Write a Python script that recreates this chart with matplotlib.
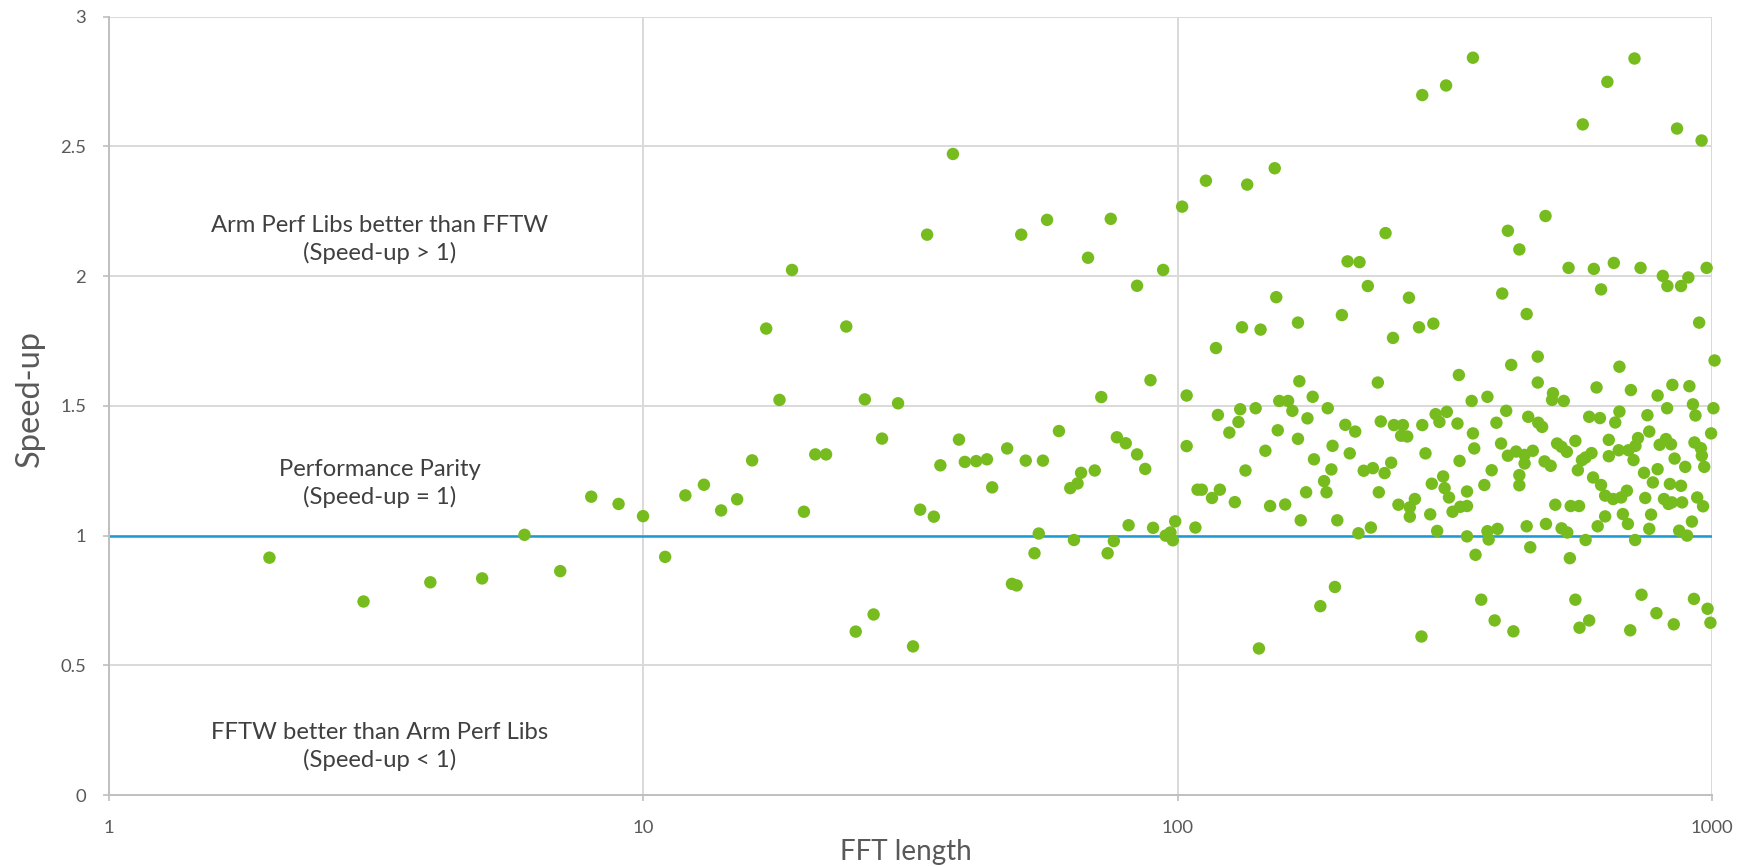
import matplotlib
matplotlib.use("Agg")
import matplotlib.pyplot as plt
from matplotlib.ticker import FixedLocator, FixedFormatter, NullLocator

# FFT lengths and measured speed-up of Arm Performance Libraries over FFTW
fft_length = [
    2, 3, 4, 5, 6, 7, 8, 9, 10, 11, 12, 13, 14, 15, 16, 17, 18, 19, 20, 21,
    22, 24, 25, 26, 27, 28, 30, 32, 33, 34, 35, 36, 38, 39, 40, 42, 44, 45,
    48, 49, 50, 51, 52, 54, 55, 56, 57, 60, 63, 64, 65, 66, 68, 70, 72, 74,
    75, 76, 77, 80, 81, 84, 84, 87, 89, 90, 94, 95, 97, 98, 99,
    102, 113, 135, 152, 245, 208, 219, 227, 153, 118, 132, 143, 168, 203,
    253, 271, 283, 301, 287, 318,
    104, 169, 237, 104, 119, 131, 140, 130, 125, 155, 161, 164, 179, 191,
    175, 154, 168, 146, 134, 195, 210, 180, 194, 188, 190, 174, 206, 215,
    240, 254, 264, 262, 269, 287, 304, 309, 319, 291, 251, 223, 232, 244,
    238, 109, 111, 116, 120, 128, 149, 159, 170, 199, 108, 218, 230, 259,
    272, 278, 272, 297, 299, 314, 316, 322, 306, 197, 185, 142, 286,
    357, 716, 637, 573, 860, 956, 488, 415, 436, 539, 601, 655, 735, 809,
    825, 875, 903, 977, 405, 620, 450, 946, 1011, 472, 421, 671, 336,
    472, 355, 380, 504, 502, 528, 608, 705, 791, 843, 907, 921, 824, 1006,
    931, 334, 412, 395, 453, 473, 481, 589, 617, 671, 659, 757, 763, 996,
    357, 359, 403, 337, 387, 375, 348, 327, 338, 348, 348, 380, 382, 397,
    361, 415, 430, 446, 462, 446, 436, 436, 486, 499, 513, 523, 535, 555,
    561, 571, 580, 595, 599, 620, 631, 653, 676, 693, 509, 544, 564, 450,
    489, 523, 536, 457, 580, 542, 631, 611, 681, 696, 641, 641, 669, 698,
    713, 719, 727, 746, 775, 791, 798, 820, 838, 851, 891, 927, 953, 957,
    967, 834, 875, 750, 769, 813, 829, 841, 879, 938, 962, 917, 763, 868,
    898, 718, 370, 392, 425, 555, 565, 589, 703, 738, 787, 848, 925, 981,
    993,
]
speed_up = [
    0.915, 0.746, 0.82, 0.835, 1.003, 0.863, 1.15, 1.122, 1.075, 0.918,
    1.155, 1.196, 1.097, 1.14, 1.29, 1.798, 1.523, 2.024, 1.092, 1.313,
    1.313, 1.806, 0.63, 1.525, 0.696, 1.374, 1.51, 0.573, 1.10, 2.16,
    1.073, 1.271, 2.471, 1.37, 1.284, 1.287, 1.294, 1.186, 1.336, 0.814,
    0.808, 2.16, 1.289, 0.932, 1.008, 1.289, 2.217, 1.403, 1.183, 0.983,
    1.201, 1.242, 2.071, 1.251, 1.534, 0.932, 2.221, 0.979, 1.379, 1.356,
    1.040, 1.313, 1.963, 1.257, 1.599, 1.030, 2.024, 1.0, 1.012, 0.982,
    1.055,
    2.268, 2.368, 2.353, 2.416, 2.166, 2.057, 2.054, 1.962, 1.919, 1.723,
    1.803, 1.794, 1.821, 1.850, 1.762, 1.917, 1.803, 1.817, 2.698, 2.735,
    1.540, 1.595, 1.590, 1.345, 1.465, 1.487, 1.491, 1.438, 1.397, 1.519,
    1.519, 1.481, 1.535, 1.491, 1.452, 1.406, 1.373, 1.327, 1.251, 1.346,
    1.317, 1.294, 1.255, 1.210, 1.167, 1.167, 1.427, 1.401, 1.440, 1.426,
    1.426, 1.385, 1.382, 1.426, 1.468, 1.438, 1.477, 1.317, 1.281, 1.250,
    1.260, 1.241, 1.167, 1.177, 1.177, 1.145, 1.177, 1.129, 1.114, 1.120,
    1.059, 1.059, 1.031, 1.009, 1.031, 1.119, 1.109, 1.141, 1.073, 1.082,
    1.200, 1.228, 1.183, 1.147, 1.018, 0.802, 0.728, 0.565, 0.611,
    2.842, 2.839, 2.749, 2.585, 2.569, 2.523, 2.232, 2.175, 2.103, 2.032,
    2.028, 2.051, 2.032, 2.001, 1.962, 1.962, 1.995, 2.032, 1.933, 1.949,
    1.854, 1.821, 1.675, 1.690, 1.658, 1.651, 1.619,
    1.590, 1.519, 1.535, 1.549, 1.523, 1.519, 1.571, 1.561, 1.540, 1.581,
    1.576, 1.506, 1.491, 1.491, 1.463, 1.432, 1.481, 1.435, 1.458, 1.435,
    1.419, 1.458, 1.453, 1.478, 1.436, 1.464, 1.401, 1.394, 1.394, 1.336,
    1.355, 1.288, 1.252, 1.195, 1.170, 1.092, 1.111, 1.114, 0.997, 1.017,
    0.985, 1.026, 0.926, 1.308, 1.324, 1.311, 1.327, 1.278, 1.233, 1.194,
    1.286, 1.269, 1.355, 1.342, 1.323, 1.365, 1.252, 1.291, 1.301, 1.318,
    1.224, 1.195, 1.154, 1.141, 1.147, 1.173, 1.119, 1.114, 1.114, 1.036,
    1.045, 1.028, 1.012, 0.955, 0.983, 0.913, 1.074, 1.036, 1.083, 1.045,
    1.369, 1.306, 1.329, 1.329, 1.291, 1.346, 1.376, 1.242, 1.205, 1.256,
    1.350, 1.372, 1.352, 1.297, 1.265, 1.359, 1.337, 1.308, 1.265, 1.199,
    1.192, 1.145, 1.081, 1.141, 1.122, 1.128, 1.128, 1.147, 1.113, 1.054,
    1.026, 1.019, 1.000, 0.983, 0.753, 0.673, 0.631, 0.753, 0.645, 0.673,
    0.635, 0.772, 0.701, 0.658, 0.756, 0.718, 0.664,
]

x_ticks = [1, 10, 100, 1000]
x_tick_labels = ["1", "10", "100", "1000"]
y_ticks = [0, 0.5, 1, 1.5, 2, 2.5, 3]
y_tick_labels = ["0", "0.5", "1", "1.5", "2", "2.5", "3"]
parity = 1.0

region_labels = [
    "Arm Perf Libs better than FFTW\n(Speed-up > 1)",
    "Performance Parity\n(Speed-up = 1)",
    "FFTW better than Arm Perf Libs\n(Speed-up < 1)",
]
region_label_y = [2.143, 1.2, 0.186]
region_label_x = 3.22

plt.rcParams["font.family"] = ["Lato", "DejaVu Sans"]

fig = plt.figure(figsize=(17.42, 8.67), dpi=100)
ax = fig.add_axes([0.0623, 0.0830, 0.9205, 0.8977])

ax.set_xscale("log")
ax.set_xlim(1, 1000)
ax.set_ylim(0, 3)

grid_color = "#D9D9D9"
for xv in x_ticks[1:]:
    ax.axvline(xv, color=grid_color, lw=1.4, zorder=0)
for yv in y_ticks[1:]:
    ax.axhline(yv, color=grid_color, lw=1.4, zorder=0)

ax.axhline(parity, color="#1B9BD1", lw=1.8, zorder=2)

ax.scatter(fft_length, speed_up, s=80, color="#77BC1F", edgecolors="none",
           zorder=3, clip_on=False)

for txt, yv in zip(region_labels, region_label_y):
    ax.text(region_label_x, yv, txt, ha="center", va="center",
            fontsize=17.2, color="#404040", linespacing=1.32)

for side in ("top", "right"):
    ax.spines[side].set_visible(False)
for side in ("left", "bottom"):
    ax.spines[side].set_color("#BFBFBF")
    ax.spines[side].set_linewidth(1.4)

ax.xaxis.set_major_locator(FixedLocator(x_ticks))
ax.xaxis.set_major_formatter(FixedFormatter(x_tick_labels))
ax.xaxis.set_minor_locator(NullLocator())
ax.yaxis.set_major_locator(FixedLocator(y_ticks))
ax.yaxis.set_major_formatter(FixedFormatter(y_tick_labels))

ax.tick_params(axis="both", colors="#BFBFBF", labelcolor="#595959",
               labelsize=13.3, length=4, width=1.2, direction="out")
ax.tick_params(axis="x", pad=14)
ax.tick_params(axis="y", pad=12)

ax.set_xlabel("FFT length", fontsize=20, color="#595959")
ax.xaxis.set_label_coords(0.497, -0.056)
ax.set_ylabel("Speed-up", fontsize=23.5, color="#595959")
ax.yaxis.set_label_coords(-0.040, 0.51)

fig.savefig("out.png", dpi=100)
